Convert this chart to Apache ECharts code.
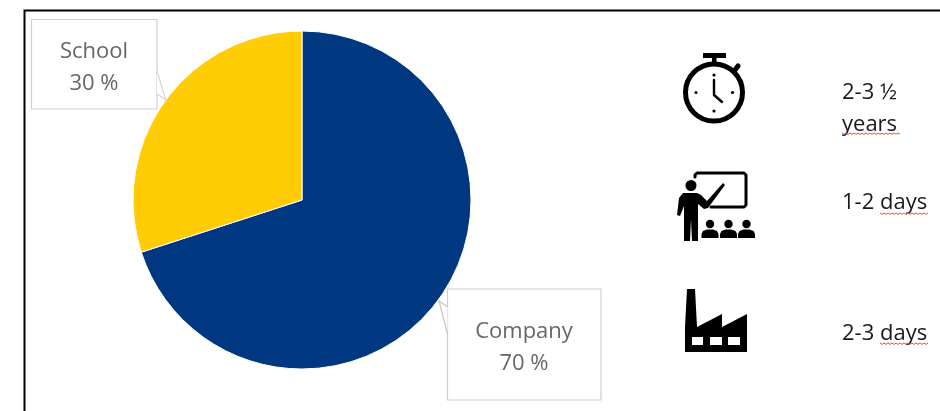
<!DOCTYPE html>
<html><head><meta charset="utf-8">
<style>html,body{margin:0;padding:0;background:#fff}#c{width:940px;height:411px}</style>
<script src="https://cdn.jsdelivr.net/npm/echarts@6/dist/echarts.min.js"></script>
</head><body><div id="c"></div>
<script>
const categories = ['Company', 'School'];
const shares = [70, 30];
const colors = ['#003781', '#FFCC05'];
const durations = ['2-3 ½\nyears', '1-2 days', '2-3 days'];

const chart = echarts.init(document.getElementById('c'), null, {renderer: 'canvas'});
const K = '#000';
const font = '"Open Sans", "Noto Sans", sans-serif';
const squiggle = (x0, x1, y) => {
  const pts = [];
  for (let x = x0, i = 0; x <= x1; x += 2, i++) pts.push([x, y + (i % 2 ? 1.4 : 0)]);
  return {type: 'polyline', shape: {points: pts}, style: {stroke: '#e0504a', lineWidth: 1, fill: null}};
};
const rect = (x, y, w, h, fill) => ({type: 'rect', shape: {x, y, width: w, height: h}, style: {fill: fill || K}});
const circ = (cx, cy, r, fill) => ({type: 'circle', shape: {cx, cy, r}, style: {fill: fill || K}});
const poly = (points, fill) => ({type: 'polygon', shape: {points}, style: {fill: fill || K}});
const line = (points, w) => ({type: 'polyline', shape: {points}, style: {stroke: K, lineWidth: w, fill: null, lineCap: 'round', lineJoin: 'round'}});
const person = (cx) => [circ(cx, 224, 4.2), poly([[cx-8.5,238],[cx-8.5,234],[cx-7,231],[cx-3,229.5],[cx+3,229.5],[cx+7,231],[cx+8.5,234],[cx+8.5,238]])];
const txt = (x, y, t) => ({type: 'text', x, y, style: {text: t, font: '22px ' + font, fill: '#1a1a1a', lineHeight: 32, verticalAlign: 'top'}});
const box = (x, y, w, h) => ({type: 'rect', z: 0, shape: {x, y, width: w, height: h}, style: {fill: '#fff', stroke: '#cfcfcf', lineWidth: 1.2}});

chart.setOption({
  animation: false,
  backgroundColor: '#fff',
  series: [{
    type: 'pie',
    center: [302, 200],
    radius: [0, 169],
    startAngle: 90,
    clockwise: true,
    silent: true,
    data: categories.map((name, i) => ({name, value: shares[i], itemStyle: {color: colors[i]}})),
    itemStyle: {borderColor: '#fff', borderWidth: 1},
    labelLine: {show: false},
    label: {
      show: true,
      formatter: '{b}\n{c} %',
      color: '#666',
      fontFamily: font,
      fontSize: 22,
      lineHeight: 32,
      align: 'center',
      verticalAlign: 'middle'
    },
    labelLayout: p => p.dataIndex === 0
      ? {x: 524, y: 347.5, align: 'center', verticalAlign: 'middle'}
      : {x: 94, y: 67.5, align: 'center', verticalAlign: 'middle'}
  }],
  graphic: [
    box(31.5, 19.5, 125.5, 89.5),
    box(447.5, 289, 153.5, 111),
    {type: 'rect', z: 100, shape: {x: 24.5, y: 10.5, width: 930, height: 420}, style: {fill: null, stroke: '#000', lineWidth: 2}},
    {type: 'polyline', z: 100, shape: {points: [[157, 71], [166, 100], [157, 94]]}, style: {stroke: '#d4d4d4', lineWidth: 1.2, fill: '#fff'}},
    {type: 'polyline', z: 100, shape: {points: [[447.5, 334], [439, 301], [447.5, 307]]}, style: {stroke: '#c4c4c4', lineWidth: 1.2, fill: '#fff'}},
    {type: 'group', z: 100, children: [
      {type: 'circle', shape: {cx: 714, cy: 92.5, r: 28.5}, style: {fill: null, stroke: K, lineWidth: 5}},
      rect(703, 53, 23, 5), rect(712, 58, 4.5, 7),
      line([[735, 70], [738, 66]], 5),
      circ(714, 75, 1.6), circ(714, 111, 1.6), circ(696, 92.5, 1.6), circ(732.5, 92.5, 1.6),
      line([[714, 80], [714, 95], [722, 102]], 2.4),
      line([[695, 177], [695, 175], [697, 173], [744, 173], [746, 175], [746, 205], [744, 207], [711, 207]], 3),
      circ(691, 185.5, 5.5),
      poly([[683,193],[697,193],[701,195],[707,201],[723,183],[725,185],[708,208],[704,209],[698,204],[698,241],[692,241],[691,219],[690,241],[684,241],[684,206],[680,216],[677,215],[679,198]]),
      ...person(710), ...person(728.5), ...person(746.5),
      poly([[687, 289], [695, 289], [697, 327], [722, 314], [722, 327], [747, 314], [747, 352], [685, 352], [685, 327]]),
      rect(692, 337, 11, 8, '#fff'), rect(710, 337, 12, 8, '#fff'), rect(728, 337, 12, 8, '#fff')
    ]},
    txt(842, 76.5, durations[0]),
    txt(842, 187, durations[1]),
    txt(842, 318, durations[2]),
    squiggle(842, 900, 133),
    squiggle(880, 928, 213),
    squiggle(880, 928, 343)
  ]
});
</script></body></html>
